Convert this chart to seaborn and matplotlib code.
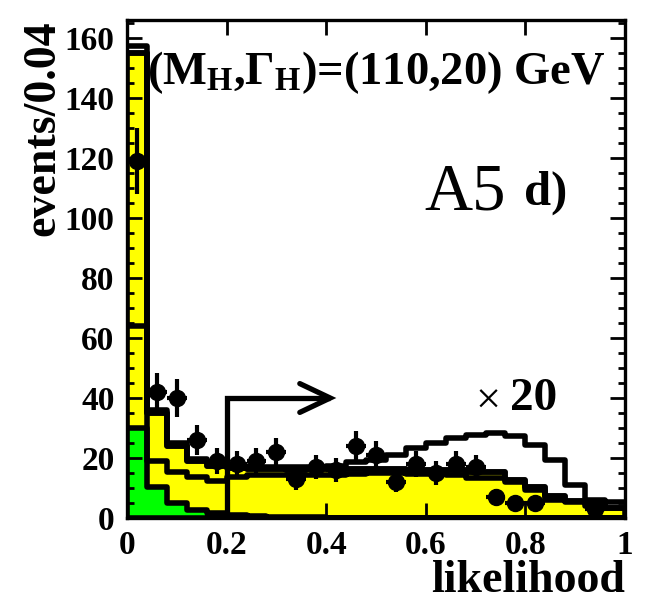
import numpy as np
import pandas as pd
import matplotlib
matplotlib.use("Agg")
import matplotlib.pyplot as plt
from matplotlib.ticker import MultipleLocator
import seaborn as sns

# ---- binning: 25 bins of width 0.04 in the likelihood output ----
bin_edges = [round(0.04 * i, 2) for i in range(26)]
bin_centers = [round(0.04 * i + 0.02, 2) for i in range(25)]

# ---- expected backgrounds (events / 0.04) ----
total_bkg = [155.0, 35.0, 24.0, 19.0, 17.5, 16.8, 16.3, 16.3, 16.0, 16.5,
             16.5, 16.5, 16.5, 16.5, 16.0, 16.0, 16.0, 15.2, 15.2, 12.8,
             10.5, 7.2, 5.8, 5.0, 3.4]
partial_bkg = [64.0, 19.0, 15.5, 13.8, 12.5, 13.5, 14.5, 14.5, 14.2, 14.5,
               14.5, 14.8, 15.0, 15.0, 14.8, 14.6, 14.4, 13.4, 13.4, 12.1,
               9.4, 6.1, 5.5, 4.0, 3.2]
green_bkg = [30.0, 10.5, 5.0, 2.8, 1.7, 1.0, 0.6, 0.4, 0.3, 0.2,
             0.0, 0.0, 0.0, 0.0, 0.0, 0.0, 0.0, 0.0, 0.0, 0.0,
             0.0, 0.0, 0.0, 0.0, 0.0]
# background plus signal scaled by 20
bkg_plus_sig20 = [157.5, 36.0, 25.0, 19.8, 18.3, 17.5, 17.0, 17.0, 17.0, 17.0,
                  17.5, 18.6, 19.5, 21.0, 23.4, 25.0, 26.6, 27.6, 28.3, 27.2,
                  24.4, 19.4, 11.1, 6.1, 5.5]

# ---- observed events ----
observed = [119, 42, 40, 26, 19, 18, 19, 22, 13, 17,
            16, 24, 21, 12, 18, 15, 18, 17, 7, 5,
            5, 0, 0, 3, 0]

x_ticks = [0.0, 0.2, 0.4, 0.6, 0.8, 1.0]
x_tick_labels = ["0", "0.2", "0.4", "0.6", "0.8", "1"]
y_ticks = [0, 20, 40, 60, 80, 100, 120, 140, 160]

cut_value = 0.2
arrow_level = 40.0
arrow_tip = 0.408

hist = pd.DataFrame({
    "likelihood": bin_centers,
    "total": total_bkg,
    "partial": partial_bkg,
    "green": green_bkg,
    "sig20": bkg_plus_sig20,
})

sns.set_style("ticks")
plt.rcParams["font.family"] = ["Liberation Serif", "DejaVu Serif"]
plt.rcParams["font.weight"] = "bold"
plt.rcParams["mathtext.fontset"] = "custom"
plt.rcParams["mathtext.rm"] = "Liberation Serif:bold"
plt.rcParams["mathtext.bf"] = "Liberation Serif:bold"
plt.rcParams["mathtext.it"] = "Liberation Serif:bold"
for key in ("text.color", "axes.labelcolor", "xtick.color", "ytick.color",
            "axes.edgecolor"):
    plt.rcParams[key] = "black"

fig = plt.figure(figsize=(6.51, 6.05), dpi=100)
ax = fig.add_axes([127 / 651, 87 / 605, 498 / 651, 498 / 605])

LW = 4.0


def draw(col, **kw):
    sns.histplot(data=hist, x="likelihood", weights=col, bins=bin_edges,
                 element="step", ax=ax, **kw)


# filled total background
draw("total", fill=True, color="#ffff00", alpha=1.0,
     edgecolor="black", linewidth=LW, zorder=1)
# filled green component
draw("green", fill=True, color="#00ff00", alpha=1.0,
     edgecolor="black", linewidth=LW, zorder=1.1)
# partial background sum (outline only)
draw("partial", fill=False, color="black", linewidth=LW, zorder=1.2)
# total background outline on top of the partial line
draw("total", fill=False, color="black", linewidth=LW, zorder=1.3)
# background + 20 x signal
draw("sig20", fill=False, color="black", linewidth=LW, zorder=1.4)

# observed data with Poisson errors, skip empty bins
obs = np.asarray(observed, dtype=float)
xc = np.asarray(bin_centers)
has = obs > 0
ax.errorbar(xc[has], obs[has], yerr=np.sqrt(obs[has]),
            xerr=0.02, fmt="o", color="black", markersize=11.5,
            elinewidth=3.0, capsize=0, zorder=5)

# selection-cut arrow
ax.plot([cut_value, cut_value, arrow_tip], [0, arrow_level, arrow_level],
        color="black", linewidth=3.8, solid_capstyle="butt",
        solid_joinstyle="miter", zorder=4)
ax.plot([arrow_tip - 0.061, arrow_tip, arrow_tip - 0.061],
        [arrow_level + 4.8, arrow_level, arrow_level - 4.8],
        color="black", linewidth=3.8, solid_joinstyle="miter", zorder=4)

# annotations
ax.text(0.04, 148.5, r"(M$_{\mathbf{H}}$,$\Gamma_{\mathbf{H}}$)=(110,20) GeV",
        fontsize=33.5, fontweight="bold", ha="left", va="center")
ax.text(0.598, 108.5, "A5", fontsize=48, fontweight="normal",
        ha="left", va="center")
ax.text(0.797, 108.5, "d)", fontsize=35, fontweight="bold",
        ha="left", va="center")
ax.text(0.70, 38.5, "\u00d7", fontsize=32, fontweight="normal",
        ha="left", va="center")
ax.text(0.77, 39.5, "20", fontsize=34, fontweight="bold",
        ha="left", va="center")

# axes
ax.set_xlim(0, 1)
ax.set_ylim(0, 166)
ax.set_xticks(x_ticks)
ax.set_xticklabels(x_tick_labels)
ax.set_yticks(y_ticks)
ax.yaxis.set_minor_locator(MultipleLocator(5))
ax.set_axisbelow(False)
ax.tick_params(axis="both", which="both", direction="in", top=True,
               right=True, width=2.0, labelsize=24, pad=9, color="black",
               labelcolor="black")
ax.tick_params(axis="both", which="major", length=11)
ax.tick_params(axis="y", which="minor", length=5)
for lbl in ax.get_xticklabels() + ax.get_yticklabels():
    lbl.set_fontweight("bold")
for sp in ax.spines.values():
    sp.set_linewidth(2.4)
    sp.set_color("black")
    sp.set_visible(True)
    sp.set_zorder(6)

ax.set_xlabel("likelihood", fontsize=33, fontweight="bold", loc="right",
              color="black")
ax.xaxis.set_label_coords(1.0, -0.085)
ax.set_ylabel("events/0.04", fontsize=33, fontweight="bold", loc="top",
              color="black")
ax.yaxis.set_label_coords(-0.125, 1.0)

fig.savefig("out.png", dpi=100)
